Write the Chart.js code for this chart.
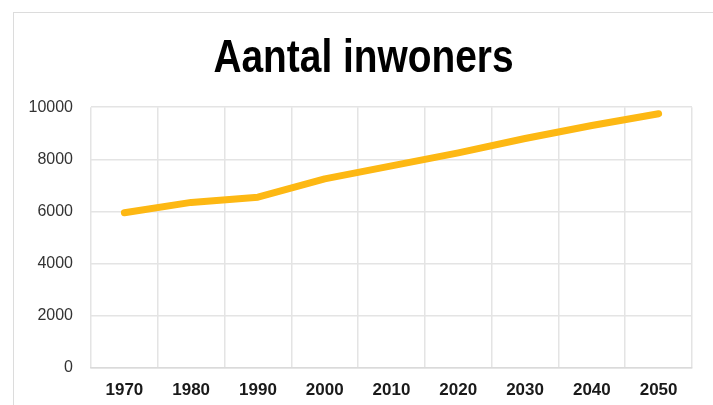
<!DOCTYPE html>
<html>
<head>
<meta charset="utf-8">
<script src="https://cdn.jsdelivr.net/npm/chart.js@4"></script>
<style>
  html, body { margin: 0; padding: 0; background: #fff; width: 713px; height: 405px; overflow: hidden; }
  #frame { position: absolute; left: 13px; top: 12px; width: 700px; height: 393px; border-left: 1px solid #dcdcdc; border-top: 1px solid #dcdcdc; }
  #c { position: absolute; left: 0; top: 0; }
</style>
</head>
<body>
<div id="frame"><canvas id="c" width="699" height="392"></canvas></div>
<script>
const categories = ['1970', '1980', '1990', '2000', '2010', '2020', '2030', '2040', '2050'];
const inwoners = [5950, 6350, 6550, 7250, 7750, 8250, 8800, 9300, 9750];
const yTicks = [0, 2000, 4000, 6000, 8000, 10000];
const titleText = 'Aantal inwoners';

// Narrow the title horizontally (condensed look) and centre it on the frame.
const condensedTitle = {
  id: 'condensedTitle',
  afterLayout(chart) {
    const tb = chart.titleBlock;
    if (!tb || tb._condensed) return;
    const orig = tb.draw.bind(tb);
    tb.draw = function () {
      const ctx = chart.ctx;
      const cx = (tb.left + tb.right) / 2;
      ctx.save();
      ctx.translate(chart.width / 2, 0);
      ctx.scale(0.845, 1);
      ctx.translate(-cx, 0);
      orig();
      ctx.restore();
    };
    tb._condensed = true;
  }
};

new Chart(document.getElementById('c'), {
  type: 'line',
  data: {
    labels: categories,
    datasets: [{
      data: inwoners,
      borderColor: '#FDB813',
      backgroundColor: '#FDB813',
      borderWidth: 7,
      borderCapStyle: 'round',
      borderJoinStyle: 'round',
      pointRadius: 0,
      tension: 0,
      fill: false
    }]
  },
  options: {
    responsive: false,
    animation: false,
    layout: { padding: { top: 0, left: 0, right: 21, bottom: 0 } },
    plugins: {
      legend: { display: false },
      tooltip: { enabled: false },
      title: {
        display: true,
        text: titleText,
        color: '#000',
        font: { family: '"Liberation Sans", Arial, sans-serif', size: 46, weight: 'bold' },
        padding: { top: 19, bottom: 20 }
      }
    },
    scales: {
      x: {
        offset: true,
        grid: { offset: true, color: '#e4e4e4', lineWidth: 1.5, drawTicks: false },
        border: { display: true, color: '#dadada', width: 1.5 },
        ticks: {
          color: '#1a1a1a',
          padding: 12,
          maxRotation: 0,
          font: { family: '"Liberation Sans", Arial, sans-serif', size: 17, weight: 'bold' }
        },
        afterFit: (s) => { s.height = 37; }
      },
      y: {
        min: 0,
        max: 10000,
        afterBuildTicks: (s) => { s.ticks = yTicks.map(v => ({ value: v })); },
        grid: { color: '#e4e4e4', lineWidth: 1.5, drawTicks: false },
        border: { display: false },
        ticks: {
          color: '#333',
          padding: 18,
          callback: (v) => String(v),
          font: { family: '"Liberation Sans", Arial, sans-serif', size: 16 }
        },
        afterFit: (s) => { s.width = 77; }
      }
    }
  },
  plugins: [condensedTitle]
});
</script>
</body>
</html>
